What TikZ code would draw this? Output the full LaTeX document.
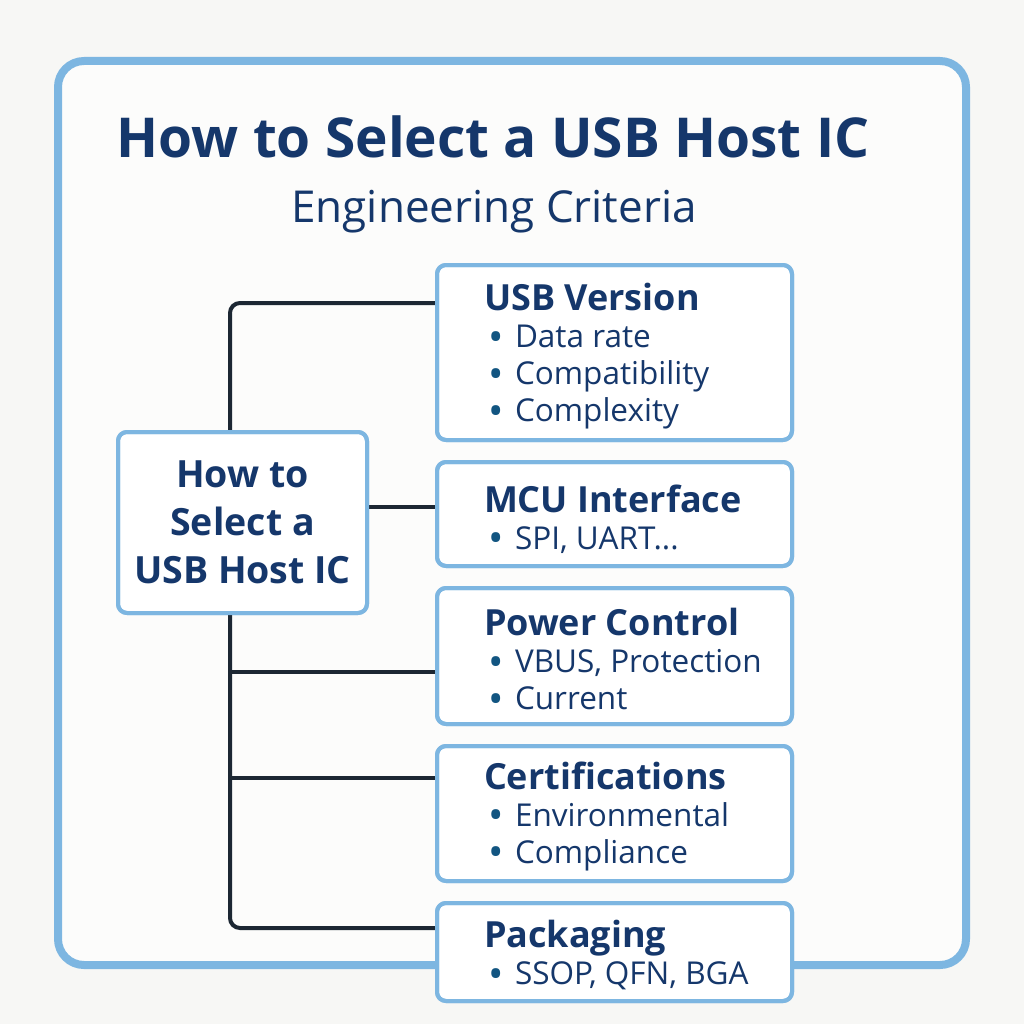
\documentclass[tikz,border=0pt]{standalone}
\usepackage{fontspec}
\setmainfont{Open Sans}
\usetikzlibrary{positioning}

\definecolor{navy}{HTML}{15376B}
\definecolor{skyline}{HTML}{7DB6E1}
\definecolor{wire}{HTML}{1C2733}
\definecolor{paper}{HTML}{F7F7F5}
\newcommand{\itm}[1]{\hspace*{4pt}\makebox[27pt][l]{\textcolor{navy!85!cyan}{\smash{\raisebox{-3.5pt}{\scalebox{1.3}{\textbullet}}}}}#1}
\newcommand{\hd}[1]{{\bfseries\fontsize{36}{37}\selectfont #1}}

\begin{document}
\begin{tikzpicture}[
    x=1pt, y=-1pt,
    node distance=22pt,
    every node/.style={text=navy, outer sep=0pt},
    box/.style={draw=skyline, line width=4pt, fill=white, rounded corners=9pt,
                minimum width=355pt, inner sep=0pt},
    crit/.style={anchor=west, align=left, inner sep=0pt,
                 font=\fontsize{31.5}{37}\selectfont},
    link/.style={draw=wire, line width=4pt, rounded corners=10pt}
]

% page and frame
\fill[paper] (0,0) rectangle (1024,1024);
\draw[skyline, line width=8pt, rounded corners=26pt, fill=white!60!paper] (58,61) rectangle (966,965);

\node (title) at (493,137) {\bfseries\fontsize{55}{60}\selectfont How to Select a USB Host IC};
\node (sub) at (494,212) {\fontsize{44}{48}\selectfont Engineering Criteria};

% criteria boxes
\node[box, minimum height=175pt] (ver) at (614.5,352.5) {};
\node[box, minimum height=104pt, below=of ver] (ifc) {};
\node[box, minimum height=136pt, below=of ifc] (pwr) {};
\node[box, minimum height=135pt, below=of pwr] (cert) {};
\node[box, minimum height=98pt, below=of cert] (pkg) {};

\node[crit] (vertx) at ([xshift=47pt,yshift=-4pt]ver.west)
    {\hd{USB Version}\\\itm{Data rate}\\\itm{Compatibility}\\\itm{Complexity}};
\node[crit] (ifctx) at ([xshift=47pt,yshift=-5pt]ifc.west)
    {\hd{MCU Interface}\\\itm{SPI, UART...}};
\node[crit] (pwrtx) at ([xshift=47pt,yshift=-3pt]pwr.west)
    {\hd{Power Control}\\\itm{VBUS, Protection}\\\itm{Current}};
\node[crit] (certtx) at ([xshift=47pt,yshift=-3pt]cert.west)
    {\hd{Certifications}\\\itm{Environmental}\\\itm{Compliance}};
\node[crit] (pkgtx) at ([xshift=47pt,yshift=-3pt]pkg.west)
    {\hd{Packaging}\\\itm{SSOP, QFN, BGA}};

% root
\node[box, minimum width=249pt, minimum height=181pt, align=center,
      font=\bfseries\fontsize{37.5}{48}\selectfont] (root) at (242.5,522.5)
    {How to\\Select a\\USB Host IC};

% connectors
\coordinate (j1) at (230,672);
\coordinate (j2) at (230,778);
\draw[link] (root.north -| 230,0) |- (ver.west |- 0,303);
\draw[link] (root.east |- 0,507) -- (ifc.west |- 0,507);
\draw[link] (root.south -| 230,0) |- (pkg.west |- 0,928);
\draw[link] (j1) -- (pwr.west |- j1);
\draw[link] (j2) -- (cert.west |- j2);

% redraw boxes over the wires
\foreach \b in {ver,ifc,pwr,cert,pkg,root}
  \draw[skyline, line width=4pt, rounded corners=9pt] (\b.north west) rectangle (\b.south east);

\end{tikzpicture}
\end{document}
